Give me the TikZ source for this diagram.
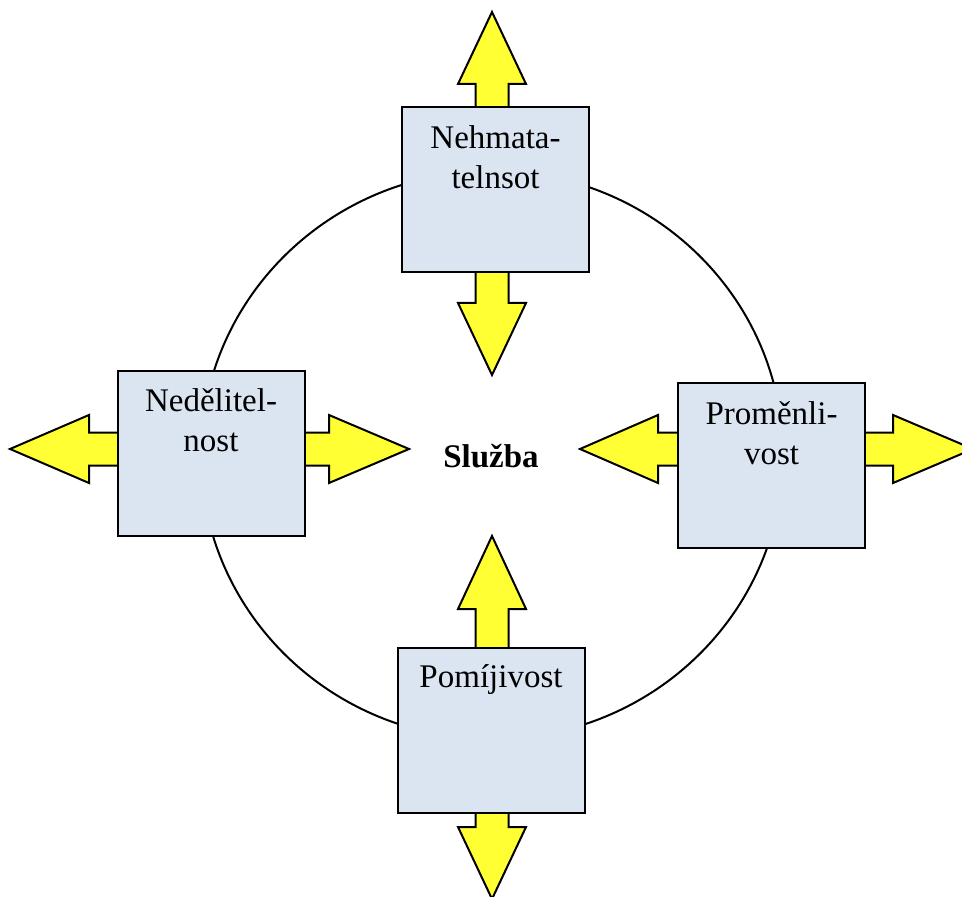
\documentclass[tikz,border=0pt]{standalone}
\usepackage{fontspec}
\setmainfont{Liberation Serif}
\usetikzlibrary{positioning}
\definecolor{boxblue}{RGB}{219,229,241}
\definecolor{arryellow}{RGB}{255,255,51}
\tikzset{
cell/.style={draw=black,line width=1pt,fill=boxblue,
minimum width=93.5pt,minimum height=82.5pt,inner sep=0pt},
celltext/.style={align=center,inner sep=0pt,font=\fontsize{16.5}{20}\selectfont},
arrowfill/.style={draw=black,line width=1pt,fill=arryellow,line join=miter},
pics/blockarrow/.style 2 args={code={
\draw[arrowfill](0,-16.5)--(#1,-16.5)--(#1,-34)--++(#2,34)--(#1,34)--(#1,16.5)--(0,16.5)--cycle;}}
}
\begin{document}
\begin{tikzpicture}[x=0.5pt,y=-0.5pt]
\useasboundingbox(0,0)rectangle(962,897);
\draw[line width=1pt](492,455)ellipse[x radius=291,y radius=284];
%% arrows behind the boxes
\pic[rotate=90]at(492,112){blockarrow={28}{72}};
\pic[rotate=-90]at(492,267){blockarrow={36}{72}};
\pic[rotate=180]at(123,449){blockarrow={34}{79}};
\pic[rotate=0]at(299,449){blockarrow={30}{80}};
\pic[rotate=180]at(683,449){blockarrow={25}{78}};
\pic[rotate=0]at(860,449){blockarrow={33}{80}};
\pic[rotate=90]at(492,652){blockarrow={43}{73}};
\pic[rotate=-90]at(492,808){blockarrow={19}{72}};
%% boxes
\node[cell](T1)at(495.5,189.5){};
\node[cell](T2)at(211,453.5){};
\node[cell](T3)at(771.5,465.5){};
\node[cell](T4)at(491,730){};
\node[celltext,below=9.5pt of T1.north](L1){Nehmata-\\telnsot};
\node[celltext,below=9pt of T2.north](L2){Nedělitel-\\nost};
\node[celltext,below=9.5pt of T3.north](L3){Proměnli-\\vost};
\node[celltext,below=9pt of T4.north](L4){Pomíjivost};
%
\node[font=\fontsize{16.5}{20}\selectfont\bfseries](S)at(491,456){Služba};
\end{tikzpicture}
\end{document}
